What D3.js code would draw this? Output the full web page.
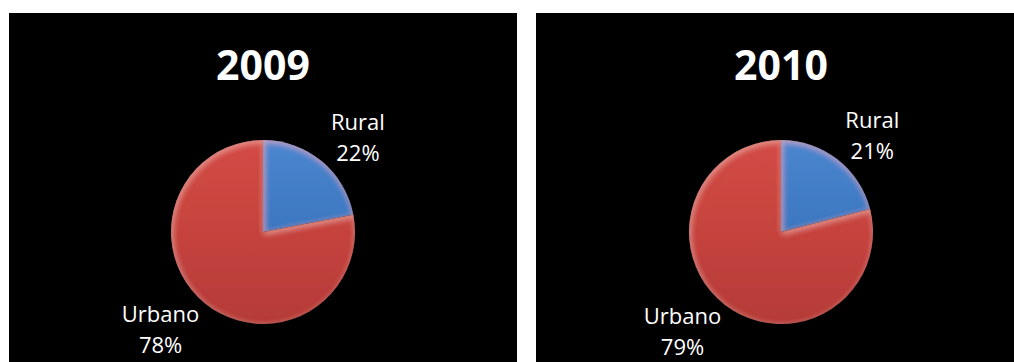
<!DOCTYPE html>
<html>
<head>
<meta charset="utf-8">
<script src="https://cdn.jsdelivr.net/npm/d3@7"></script>
<style>
  body { margin: 0; background: #fff; }
  svg { display: block; }
  .title { font-family: "Open Sans", sans-serif; font-weight: bold; fill: #fff; }
  .lbl { font-family: "Open Sans", sans-serif; fill: #fff; }
</style>
</head>
<body>
<svg id="chart"></svg>
<script>
// data
const years = ["2009", "2010"];
const categories = ["Rural", "Urbano"];
const rural = [22, 21];
const urbano = [78, 79];

const W = 1014, H = 362;
const svg = d3.select('#chart').attr('width', W).attr('height', H);

// panel layout
const panels = [
  {x: 9, y: 13, w: 508, h: 360, cx: 263, cy: 232},
  {x: 536, y: 13, w: 500, h: 360, cx: 781, cy: 232}
];
const radius = 92;

const color = d3.scaleOrdinal()
    .domain(categories)
    .range([["#4a86cf", "#3c77c0", "#3266ab"], ["#d24c46", "#c6433e", "#b53b38"]]);

const defs = svg.append('defs');
categories.forEach((c, i) => {
  const g = defs.append('linearGradient')
      .attr('id', 'grad' + i)
      .attr('gradientUnits', 'userSpaceOnUse')
      .attr('x1', 0).attr('y1', -radius).attr('x2', 0).attr('y2', radius);
  const cols = color(c);
  g.append('stop').attr('offset', '0%').attr('stop-color', cols[0]);
  g.append('stop').attr('offset', '50%').attr('stop-color', cols[1]);
  g.append('stop').attr('offset', '100%').attr('stop-color', cols[2]);
});

// soft inner bevel: light band inside each slice edge, dark rim outside it
const f = defs.append('filter').attr('id', 'bevel')
    .attr('x', '-10%').attr('y', '-10%').attr('width', '120%').attr('height', '120%');
f.append('feGaussianBlur').attr('in', 'SourceAlpha').attr('stdDeviation', 3).attr('result', 'blur');
f.append('feOffset').attr('in', 'blur').attr('dx', 1).attr('dy', 1.5).attr('result', 'blurOff');
f.append('feComposite').attr('in', 'SourceAlpha').attr('in2', 'blurOff').attr('operator', 'out').attr('result', 'edge');
f.append('feFlood').attr('flood-color', '#ffc0b8').attr('flood-opacity', 0.55).attr('result', 'light');
f.append('feComposite').attr('in', 'light').attr('in2', 'edge').attr('operator', 'in').attr('result', 'hl');
f.append('feGaussianBlur').attr('in', 'SourceAlpha').attr('stdDeviation', 1.2).attr('result', 'blur2');
f.append('feComposite').attr('in', 'SourceAlpha').attr('in2', 'blur2').attr('operator', 'out').attr('result', 'rim');
f.append('feFlood').attr('flood-color', '#000').attr('flood-opacity', 0.35).attr('result', 'dark');
f.append('feComposite').attr('in', 'dark').attr('in2', 'rim').attr('operator', 'in').attr('result', 'sh');
const m = f.append('feMerge');
m.append('feMergeNode').attr('in', 'SourceGraphic');
m.append('feMergeNode').attr('in', 'hl');
m.append('feMergeNode').attr('in', 'sh');

const pie = d3.pie().sort(null).value(d => d.value);
const arc = d3.arc().innerRadius(0).outerRadius(radius);
const labelRx = radius + 30, labelRy = radius + 8;

years.forEach((yr, i) => {
  const p = panels[i];
  const data = [
    {cat: categories[0], value: rural[i]},
    {cat: categories[1], value: urbano[i]}
  ];

  svg.append('rect')
      .attr('x', p.x).attr('y', p.y)
      .attr('width', p.w).attr('height', p.h)
      .attr('fill', '#000');

  svg.append('text')
      .attr('class', 'title')
      .attr('x', p.cx).attr('y', 80)
      .attr('text-anchor', 'middle')
      .attr('font-size', 41)
      .text(yr);

  const g = svg.append('g').attr('transform', `translate(${p.cx},${p.cy})`);

  g.selectAll('path.slice')
    .data(pie(data))
    .join('path')
      .attr('class', 'slice')
      .attr('d', arc)
      .attr('fill', (d, j) => `url(#grad${j})`)
      .attr('filter', 'url(#bevel)');

  // labels outside the pie
  pie(data).forEach(d => {
    const a = (d.startAngle + d.endAngle) / 2;
    const t = g.append('text')
        .attr('class', 'lbl')
        .attr('font-size', 22)
        .attr('text-anchor', 'middle');
    t.append('tspan').attr('x', 0).attr('dy', 0).text(d.data.cat);
    t.append('tspan').attr('x', 0).attr('dy', 31).text(d.data.value + '%');
    const bw = t.node().getBBox().width, bh = 48;
    const lx = Math.sin(a) * labelRx + Math.sin(a) * bw / 2;
    const ly = -Math.cos(a) * labelRy - Math.cos(a) * bh / 2;
    t.attr('transform', `translate(${lx},${ly - 6})`);
  });
});
</script>
</body>
</html>
